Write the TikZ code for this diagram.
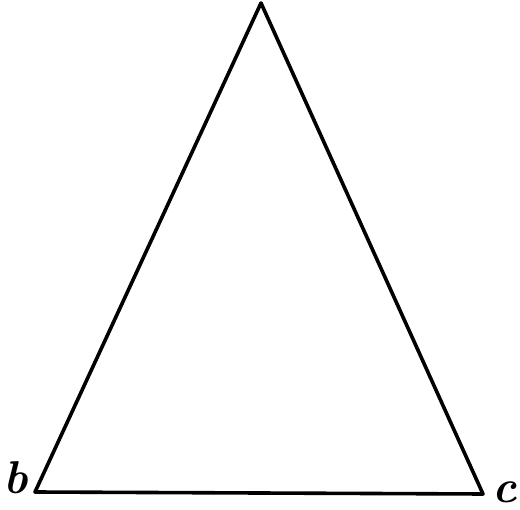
\documentclass[tikz,border=0pt]{standalone}
\usepackage{fontspec}
\begin{document}
\begin{tikzpicture}[x=1pt,y=-1pt,
  edge/.style={line width=3.6pt,line join=round,line cap=round},
  lbl/.style={font=\fontsize{46}{48}\selectfont\itshape\bfseries,inner sep=0pt}]
\useasboundingbox (0,0) rectangle (520,510);
\coordinate (a) at (261,3);
\coordinate (b) at (35,492);
\coordinate (c) at (483,494);
\draw[edge] (a) -- (b) -- (c) -- cycle;
\node[lbl] (lb) at (16,478) {b};
\node[lbl] (lc) at (505,492) {c};
\end{tikzpicture}
\end{document}
